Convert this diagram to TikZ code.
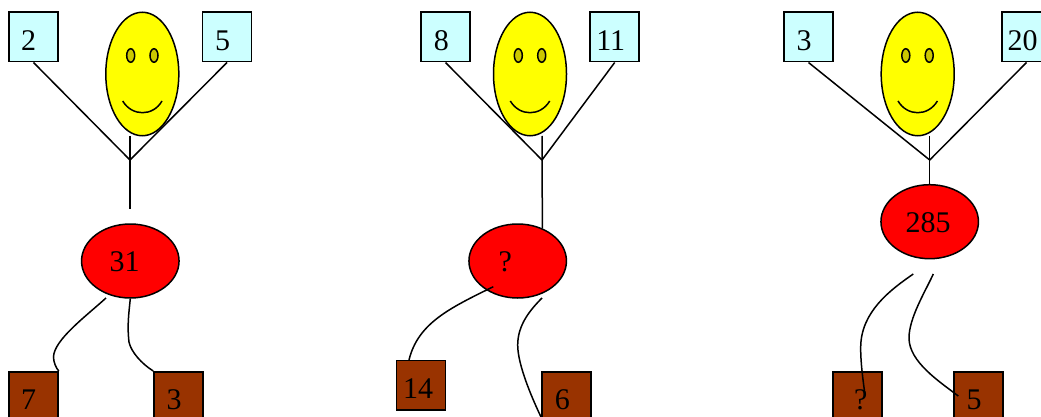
\documentclass[tikz,border=0pt]{standalone}
\usepackage{fontspec}
\setmainfont{Liberation Serif}
\usetikzlibrary{shapes}
\definecolor{inblue}{RGB}{204,255,255}
\definecolor{outbrown}{RGB}{153,51,0}
\definecolor{faceyellow}{RGB}{255,255,0}
\definecolor{eyeyellow}{RGB}{204,200,0}
\definecolor{sumred}{RGB}{255,0,0}

\begin{document}
\begin{tikzpicture}[x = 1pt, y = -1pt, line width = 1.5pt, font=\fontsize{30}{34}\selectfont]
\tikzstyle{inputStyle}=[shape = rectangle, minimum width = 49pt, minimum height = 49.5pt, inner sep = 0pt, draw, fill = inblue]
\tikzstyle{outputStyle}=[shape = rectangle, minimum width = 49pt, minimum height = 49.5pt, inner sep = 0pt, draw, fill = outbrown]
\tikzstyle{faceStyle}=[shape = ellipse, minimum width = 73pt, minimum height = 123.5pt, inner sep = 0pt, draw, fill = faceyellow]
\tikzstyle{eyeStyle}=[shape = ellipse, minimum width = 8pt, minimum height = 13.5pt, inner sep = 0pt, draw, fill = eyeyellow]
\tikzstyle{sumStyle}=[shape = ellipse, minimum width = 97.5pt, minimum height = 74pt, inner sep = 0pt, draw, fill = sumred]
\tikzstyle{textStyle}=[inner sep = 0pt]
\useasboundingbox (0,0) rectangle (1041,417);
% left
\node[faceStyle] (face1) at (142.3,74) {};
\node[eyeStyle] (eye1a) at (130.7,55.5) {};
\node[eyeStyle] (eye1b) at (154,55.5) {};
\node[inputStyle] (in1a) at (33.5,37) {};
\node[inputStyle] (in1b) at (227,37) {};
\node[sumStyle] (sum1) at (130.3,261) {};
\node[outputStyle] (out1a) at (33.5,396.5) {};
\node[outputStyle] (out1b) at (178.5,396.5) {};
\node[textStyle] (txt1a) at (28.7,41) {2};
\node[textStyle] (txt1b) at (222.5,41) {5};
\node[textStyle] (txt1c) at (124.7,262) {31};
\node[textStyle] (txt1d) at (28.5,400) {7};
\node[textStyle] (txt1e) at (174,400) {3};
\coordinate (smile1a) at (122.7,101);
\coordinate (smile1b) at (162,101);
\coordinate (fork1) at (130,160);
\coordinate (top1) at (130,136);
\coordinate (end1) at (130,209);
\coordinate (from1a) at (106,298);
\draw (smile1a) .. controls (132,116.6) and (153,116.6) .. (smile1b);
\draw (in1a.south) -- (fork1);
\draw (in1b.south) -- (fork1);
\draw (top1) -- (end1);
\draw (from1a) .. controls (85,317) and (54,340) .. (53.5,357) .. controls (53.5,362) and (56,368) .. (out1a.north east);
\draw (sum1.south) .. controls (129,312) and (127,325) .. (129,342) .. controls (131,352) and (142,364) .. (out1b.north west);
% middle
\node[faceStyle] (face2) at (530,74) {};
\node[eyeStyle] (eye2a) at (518.3,55.5) {};
\node[eyeStyle] (eye2b) at (541.7,55.5) {};
\node[inputStyle] (in2a) at (445.5,37) {};
\node[inputStyle] (in2b) at (614.7,37) {};
\node[sumStyle] (sum2) at (517.7,261) {};
\node[outputStyle] (out2a) at (421,385) {};
\node[outputStyle] (out2b) at (566.5,396.5) {};
\node[textStyle] (txt2a) at (441.3,41) {8};
\node[textStyle] (txt2b) at (610.7,41) {11};
\node[textStyle] (txt2c) at (505.3,262) {?};
\node[textStyle] (txt2d) at (418,389) {14};
\node[textStyle] (txt2e) at (562.3,400) {6};
\coordinate (smile2a) at (510.3,101);
\coordinate (smile2b) at (549.7,101);
\coordinate (fork2) at (542,160);
\coordinate (top2) at (542,136);
\coordinate (from2a) at (493.3,286.7);
\coordinate (to2a) at (409,360);
\coordinate (from2b) at (542,298);
\coordinate (to2b) at (541,417);
\draw (smile2a) .. controls (519.6,116.6) and (540.4,116.6) .. (smile2b);
\draw (in2a.south) -- (fork2);
\draw (in2b.south) -- (fork2);
\draw (top2) -- (sum2.53);
\draw (from2a) .. controls (450,308) and (418,323) .. (to2a);
\draw (from2b) .. controls (530,310) and (517.7,325) .. (517.7,345) .. controls (517.7,365) and (532,398) .. (to2b);
% right
\node[faceStyle] (face3) at (917.7,74) {};
\node[eyeStyle] (eye3a) at (905.8,55.5) {};
\node[eyeStyle] (eye3b) at (929.2,55.5) {};
\node[inputStyle] (in3a) at (808.5,37) {};
\node[inputStyle] (in3b) at (1026.5,37) {};
\node[sumStyle] (sum3) at (929.7,221.7) {};
\node[outputStyle] (out3a) at (857.5,396.5) {};
\node[outputStyle] (out3b) at (978.5,396.5) {};
\node[textStyle] (txt3a) at (804,41) {3};
\node[textStyle] (txt3b) at (1022.7,41) {20};
\node[textStyle] (txt3c) at (928,223) {285};
\node[textStyle] (txt3d) at (860.7,400) {?};
\node[textStyle] (txt3e) at (974,400) {5};
\coordinate (smile3a) at (898,101);
\coordinate (smile3b) at (937.4,101);
\coordinate (fork3) at (929.7,160);
\coordinate (top3) at (929.7,136);
\coordinate (from3a) at (913.3,274);
\coordinate (to3a) at (865,395);
\coordinate (from3b) at (933.3,274);
\coordinate (to3b) at (958.3,396);
\draw (smile3a) .. controls (907.3,116.6) and (928.1,116.6) .. (smile3b);
\draw (in3a.south) -- (fork3);
\draw (in3b.south) -- (fork3);
\draw (top3) -- (sum3.north);
\draw (from3a) .. controls (890,290) and (861,312) .. (860.7,347) .. controls (860.5,362) and (863,380) .. (to3a);
\draw (from3b) .. controls (925,292) and (909,318) .. (909,338) .. controls (909,362) and (940,382) .. (to3b);
\end{tikzpicture}
\end{document}
